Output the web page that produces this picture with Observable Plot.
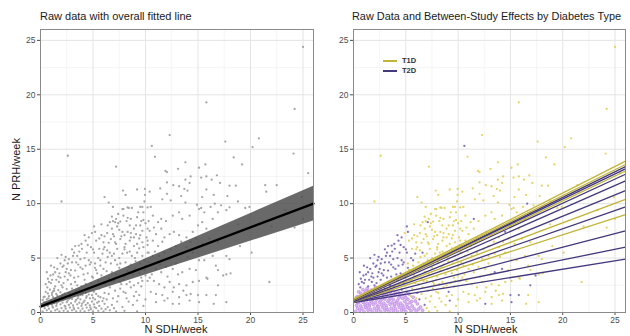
<!DOCTYPE html>
<html><head><meta charset="utf-8">
<script src="https://cdn.jsdelivr.net/npm/d3@7"></script>
<script src="https://cdn.jsdelivr.net/npm/@observablehq/plot@0.6"></script>
<style>
body{margin:0;background:#fff;}
#wrap{position:relative;width:630px;height:336px;overflow:hidden;font-family:"Liberation Sans",Arial,Helvetica,sans-serif;background:#fff;}
.panel{position:absolute;top:0;}
.title{position:absolute;top:11px;font-size:11px;line-height:11px;color:#1a1a1a;white-space:nowrap;}
.xt{position:absolute;top:324px;width:200px;font-size:11px;line-height:11px;text-align:center;color:#1a1a1a;white-space:nowrap;}
.yt{position:absolute;left:-84px;top:164px;width:200px;font-size:11px;line-height:11px;text-align:center;color:#1a1a1a;transform:rotate(-90deg);white-space:nowrap;}
.lgl{position:absolute;width:14px;height:1.6px;}
.lgt{position:absolute;font-size:7.5px;line-height:8px;font-weight:bold;color:#333;}
</style></head>
<body><div id="wrap">
<div id="left" class="panel" style="left:0"></div>
<div id="right" class="panel" style="left:315px"></div>
<div class="title" style="left:40px">Raw data with overall fitted line</div>
<div class="title" style="left:352px;font-size:10.9px">Raw Data and Between-Study Effects by Diabetes Type</div>
<div class="xt" style="left:76px">N SDH/week</div>
<div class="xt" style="left:386px">N SDH/week</div>
<div class="yt">N PRH/week</div>
<div class="lgl" style="left:383px;top:60px;background:#c2b43a"></div>
<div class="lgt" style="left:402px;top:56.5px">T1D</div>
<div class="lgl" style="left:383px;top:70px;background:#43397c"></div>
<div class="lgt" style="left:402px;top:66.5px">T2D</div>
</div>
<script>
const majorTicks = [0, 5, 10, 15, 20, 25];
const minorTicks = [2.5, 7.5, 12.5, 17.5, 22.5];
const axisDomain = [0, 26];

// T1D raw points [N SDH/week, N PRH/week]
const t1dPoints = [
[25.0,24.4],[15.8,19.3],[24.2,18.7],[12.3,16.3],[20.8,16.0],[17.6,15.7],[20.2,15.2],[2.6,14.4],[10.9,14.3],[18.4,14.25],[24.1,14.6],[7.2,13.4],[13.8,13.8],[15.7,13.6],[19.2,13.6],[15.1,13.3],[13.1,13.2],[11.9,13.0],[12.05,12.9],[25.5,12.8],[16.8,12.6],[14.3,12.5],[15.3,12.4],[15.8,12.5],[16.3,12.2],[13.8,12.2],[14.2,11.9],[17.1,11.9],[13.2,11.6],[18.0,11.65],[18.6,11.65],[21.4,11.7],[22.5,11.7],[13.7,11.35],[14.0,11.2],[15.8,11.3],[21.5,11.1],[13.4,10.7],[15.4,10.6],[16.5,10.8],[17.8,10.7],[18.8,10.2],[13.8,10.1],[14.9,9.9],[17.2,9.85],[18.0,9.66],[24.9,10.6],[15.3,9.6],[19.5,9.6],[19.9,9.7],[7.86,11.2],[8.1,10.8],[6.1,10.6],[6.5,10.1],[9.2,11.3],[9.95,11.35],[10.4,11.1],[9.95,10.8],[11.4,11.4],[12.05,11.95],[12.65,11.7],[12.05,10.9],[11.6,10.4],[12.4,10.3],[9.9,10.2],[2.0,10.2],[7.9,9.5],[8.4,9.6],[9.7,9.7],[10.5,9.7],
[10.3,8.4],[10.7,8.9],[11.2,8.3],[11.95,8.4],[12.6,8.9],[13.2,9.2],[13.5,8.6],[14.2,8.9],[15.1,9.5],[15.6,9.2],[16.2,9.7],[10.4,7.5],[11.0,7.2],[11.5,7.7],[11.8,6.9],[12.3,7.2],[12.7,7.4],[13.2,7.1],[13.9,6.9],[15.0,8.0],[15.4,8.3],[15.8,7.7],[16.4,8.6],[16.9,9.2],[17.7,9.4],[10.7,6.6],[11.2,6.1],[11.6,6.5],[12.4,5.8],[12.9,6.1],[13.4,6.5],[13.9,6.0],[14.3,6.5],[14.8,6.8],[15.4,6.3],[16.1,6.8],[10.3,5.5],[10.7,5.2],[11.3,5.2],[11.8,5.5],[12.3,4.9],[12.9,5.2],[13.5,5.4],[14.0,5.1],[14.5,5.5],[15.1,4.8],[15.6,4.8],[16.4,5.2],[17.7,5.2],[18.0,4.9],[20.1,5.5],[10.5,4.3],[11.0,4.0],[11.5,3.7],[11.95,4.2],[12.6,4.0],[13.1,3.5],[14.8,3.9],[15.8,3.2],[16.7,4.3],[16.9,3.9],[17.7,3.5],[10.4,3.2],[10.8,2.9],[11.3,2.6],[11.8,2.3],[12.3,2.8],[12.7,2.3],[13.2,2.6],[13.9,2.5],[14.5,2.8],[15.1,2.9],[15.9,3.1],[21.8,2.8],[10.5,1.9],[11.0,1.7],[11.6,1.6],[12.1,1.3],[12.6,1.9],[13.2,1.4],[13.9,1.6],[14.3,1.7],[16.7,1.6],[11.0,0.95],[11.8,1.1],[13.2,0.8],[14.2,1.1],[16.5,0.8],[17.7,0.95],
[18.1,3.6],[19.0,6.1],[18.8,8.1],[16.9,6.45],[25.0,8.6],[24.2,7.8],[22.0,7.9],[23.3,9.4],
[6.8,8.8],[7.4,9.05],[7.8,9.5],[8.3,9.65],[8.7,9.6],[9.5,9.7],[9.8,9.2],[10.2,9.65],[6.9,8.4],[7.6,8.35],[7.9,8.9],[8.2,8.4],[9.2,8.75],[9.8,8.5],[8.5,8.0],[8.9,7.7],[9.5,8.0],[10.2,7.7],[7.3,7.9],[6.8,7.7],[6.35,7.3],[7.8,7.4],[8.3,7.4],[8.9,6.9],[9.5,7.1],[10.1,6.9],[5.6,6.8],[6.0,6.45],[6.7,6.75],[7.1,6.45],[7.6,6.75],[8.1,6.3],[8.5,6.6],[9.2,6.3],[9.7,6.45],[10.2,6.2],[5.6,5.85],[6.35,5.7],[6.8,5.2],[7.3,5.85],[7.8,5.4],[8.25,5.5],[8.7,5.2],[9.2,5.5],[9.7,5.2],[10.2,5.5],[5.2,4.5],[6.2,4.6],[6.7,4.5],[7.1,4.8],[7.6,4.5],[8.1,4.6],[8.6,4.4],[9.05,4.7],[9.5,4.5],[10.0,4.3],
[5.0,3.2],[5.3,3.9],[5.5,2.9],[5.8,3.4],[6.0,4.0],[6.2,2.6],[6.5,3.1],[6.8,3.7],[7.0,2.9],[7.2,3.5],[7.5,4.1],[7.7,2.6],[8.0,3.3],[8.3,3.8],[8.5,2.8],[8.8,3.5],[9.0,4.0],[9.3,2.7],[9.6,3.2],[9.9,3.9],[10.2,2.9],[5.6,2.2],[6.6,2.3],[7.1,2.0],[7.6,2.2],[8.1,1.8],[8.6,2.3],[9.6,2.4],[7.3,1.0],[8.2,1.3],[9.8,0.6],[8.8,0.7],[7.8,0.5],
[5.3,6.6],[5.8,7.1],[6.1,6.0],[6.4,8.0],[6.9,7.2],[7.2,6.3],[7.4,8.2],[7.7,7.0],[8.0,6.0],[8.3,8.7],[8.6,7.3],[8.9,6.1],[9.1,8.0],[9.4,6.8],[9.7,7.5],[10.0,8.2],[4.9,7.3],
[7.2,0.1],[8.0,0.15],[9.2,0.1],[7.0,0.4],
[5.4,3.6],[5.9,2.7],[6.3,3.8],[6.7,2.9],[7.3,4.4],[7.9,3.0],[8.4,4.2],[8.9,2.5],[9.4,3.6],[10.0,3.4],[5.7,4.3],[6.4,5.1],[7.0,5.4],[7.5,5.0],[8.0,5.8],[8.5,5.6],[9.0,5.0],[9.4,5.9],[9.9,4.8],[6.0,5.8],[6.5,6.4],[7.0,7.0],[7.5,7.6],[8.0,7.1],[8.6,6.9],[9.1,7.2],[9.8,6.0],[6.1,7.0],[5.8,8.1],[6.6,8.3],[7.2,8.6],[8.6,8.6],[9.3,9.2],[9.6,8.4],[6.9,9.7],[5.5,1.5],[6.0,1.3],[6.5,1.7],[7.4,1.5],[7.9,1.9],[8.4,1.0],[8.9,1.5],[9.4,1.6],[10.0,1.2],[6.9,1.3],[7.6,2.8],[8.2,2.6],[9.7,2.9],[10.3,4.6],[10.6,3.5],[10.9,5.6],[11.4,4.4],[12.1,3.3],[12.9,4.5],[13.6,2.0],[10.2,6.6],[10.8,7.8]
];

// T2D raw points (scattered)
const t2dPoints = [
[10.6,15.3],[16.6,10.0],[11.5,8.6],[14.5,7.4],[12.6,0.8],[15.8,1.6],[15.1,0.95],[13.5,3.7],[14.2,4.0],[16.9,2.5],[17.4,3.4],[15.0,1.6],
[5.1,7.9],[5.2,7.4],[4.6,6.9],[4.3,6.6],[3.65,6.15],[3.95,5.85],[3.2,5.5],[3.5,5.2],[2.4,5.1],[2.7,4.9],[3.0,4.6],[3.8,4.9],[4.4,5.5],[4.8,6.0],[5.1,5.5],[5.9,5.4],[1.9,4.5],[2.2,4.3],[1.3,4.15],[1.4,3.7],[1.6,4.0],[0.95,3.4],[0.8,2.8],[0.65,2.3],[1.75,2.8],[1.9,3.2],[2.4,3.7],[2.5,4.0],[2.85,3.4],[3.3,3.85],[3.8,4.15],[4.3,4.3],[4.8,4.6],[5.7,4.8],
[2.0,2.5],[2.6,3.0],[3.0,2.2],[3.3,2.8],[3.6,3.3],[3.9,2.4],[4.2,3.0],[4.5,3.6],[4.8,2.7],[4.6,2.1],
[0.5,2.6],[0.7,3.1],[1.0,2.7],[1.2,3.5],[1.5,3.0],[1.8,3.6],[2.1,4.2],[2.3,3.3],[2.6,4.5],[2.9,3.9],[3.1,5.2],[3.4,4.6],[3.7,5.6],[4.0,4.0],[4.2,5.0],[4.5,6.2],[4.7,4.4],[5.0,5.8],[5.5,5.0],[6.6,5.5],[3.3,6.1],[2.0,5.3],[1.0,4.3],
[7.1,8.3],[6.3,1.2],[9.2,1.1],[6.8,0.7],[9.1,1.9],[5.1,1.9],[6.1,1.8],
[1.1,3.0],[1.7,3.3],[2.2,2.7],[2.7,3.6],[3.2,3.2],[3.6,4.4],[4.1,3.5],[4.6,4.8],[5.2,4.1],[1.4,2.4],[2.9,2.6],[3.5,2.5],[4.3,2.6],[4.9,3.3],[2.3,4.8],[3.0,5.8],[3.9,6.3],[4.2,7.1],[1.6,5.0],[0.6,3.7]
];

// T2D raw points, dense low cluster
const t2dLowPoints = [
[0.5,1.9],[0.3,1.4],[1.1,1.6],[1.3,2.0],[2.8,1.7],[3.4,2.0],[4.0,1.8],
[0.2,0.1],[0.6,0.2],[1.0,0.1],[1.4,0.2],[1.8,0.1],[2.2,0.15],[2.6,0.1],[3.0,0.2],[3.4,0.1],[3.8,0.15],[4.2,0.1],[4.6,0.2],[5.0,0.1],[5.5,0.15],[6.0,0.1],[6.6,0.2],
[0.4,0.4],[0.8,0.35],[1.2,0.45],[1.6,0.3],[2.0,0.4],[2.4,0.35],[2.8,0.45],[3.2,0.3],[3.6,0.4],[4.0,0.35],[4.4,0.45],[4.8,0.3],[5.3,0.4],[5.8,0.35],[6.4,0.5],
[0.3,0.65],[0.7,0.6],[1.1,0.7],[1.5,0.6],[1.9,0.75],[2.3,0.6],[2.7,0.7],[3.1,0.65],[3.5,0.75],[3.9,0.6],[4.3,0.7],[4.7,0.65],[5.1,0.75],[5.6,0.6],[6.1,0.8],
[0.5,0.9],[0.9,0.95],[1.3,0.85],[1.7,1.0],[2.1,0.9],[2.5,0.95],[2.9,0.85],[3.3,1.0],[3.7,0.9],[4.1,0.95],[4.5,0.85],[4.9,1.0],[5.4,0.9],[5.9,1.05],
[0.2,1.15],[0.6,1.2],[1.0,1.1],[1.4,1.25],[1.8,1.15],[2.2,1.2],[2.6,1.1],[3.0,1.25],[3.4,1.15],[3.8,1.2],[4.2,1.1],[4.7,1.3],[5.2,1.2],[5.7,1.4],
[0.4,1.45],[0.8,1.5],[1.2,1.4],[1.6,1.55],[2.0,1.45],[2.4,1.5],[2.8,1.4],[3.2,1.55],[3.6,1.45],[4.0,1.6],[4.4,1.5],[4.9,1.6],
[0.7,1.75],[1.1,1.8],[1.5,1.7],[1.9,1.85],[2.3,1.75],[2.7,1.8],[3.1,1.7],[3.5,1.85],[4.3,1.8],[5.3,1.7],
[0.9,2.1],[1.3,2.2],[1.7,2.05],[2.1,2.3],[2.5,2.15],[3.7,2.1],
[0.35,0.95],[0.75,1.3],[1.15,0.5],[1.55,0.8],[1.95,1.3],[2.35,0.55],[2.75,1.25],[3.15,0.45],[3.55,1.3],[3.95,0.8],[4.35,1.35],[4.75,0.45],[5.15,0.5],[5.55,1.0],[6.2,0.3],[4.6,1.65],[5.0,1.35],[3.8,1.6],[2.1,1.65],[1.2,1.95]
];

// Overall fitted line and confidence band
const fitX = [0, 26];
const fitY = [0.55, 10.0];
const bandLo = [0.35, 8.4];
const bandHi = [0.75, 11.6];

// Between-study lines (y at x = 0 and at x = 26)
const lineGroup = ["T1D","T1D","T2D","T2D","T1D","T2D","T2D","T2D","T1D","T2D","T1D","T2D","T2D","T2D"];
const lineStart = [1.25,1.2,1.15,1.2,1.1,1.15,1.1,1.0,1.05,1.0,0.95,1.0,0.95,0.9];
const lineEnd = [13.9,13.6,13.4,13.2,13.0,12.7,12.1,11.2,10.4,9.7,9.0,7.5,6.0,4.9];

const groups = ["T1D","T2D"];
const groupColors = ["#c2b43a","#43397c"];

const allPoints = [...t1dPoints, ...t2dPoints, ...t2dLowPoints];
const band = fitX.map((x, i) => ({x, lo: bandLo[i], hi: bandHi[i], fit: fitY[i]}));
const lines = lineGroup.map((g, i) => ({g, s: lineStart[i], e: lineEnd[i]})).reverse();

function panel(marks, marginLeft, marginRight) {
  return Plot.plot({
    width: 315, height: 336,
    marginTop: 29, marginBottom: 24, marginLeft, marginRight,
    x: {domain: axisDomain, ticks: majorTicks, tickSize: 3, tickPadding: 1, label: null},
    y: {domain: axisDomain, ticks: majorTicks, tickSize: 3, tickPadding: 2, label: null},
    color: {domain: groups, range: groupColors},
    style: {fontFamily: '"Liberation Sans", Arial, sans-serif', fontSize: "8.5px", color: "#4d4d4d", background: "transparent", overflow: "visible"},
    marks: [
      Plot.ruleX(minorTicks, {stroke: "#efefef", strokeWidth: 0.6}),
      Plot.ruleY(minorTicks, {stroke: "#efefef", strokeWidth: 0.6}),
      Plot.ruleX(majorTicks, {stroke: "#e4e4e4", strokeWidth: 1}),
      Plot.ruleY(majorTicks, {stroke: "#e4e4e4", strokeWidth: 1}),
      ...marks,
      Plot.frame({stroke: "#8a8a8a", strokeWidth: 1})
    ]
  });
}

const left = panel([
  Plot.dot(allPoints, {x: d => d[0], y: d => d[1], r: 1.15, fill: "#a6a6a6", stroke: "none"}),
  Plot.areaY(band, {x: "x", y1: "lo", y2: "hi", fill: "#4f4f4f", fillOpacity: 0.85}),
  Plot.line(band, {x: "x", y: "fit", stroke: "#000", strokeWidth: 2.3})
], 40, 2);

const right = panel([
  Plot.dot(t2dLowPoints, {x: d => d[0], y: d => d[1], r: 1.5, fill: "#dcb8f4", stroke: "#b883e2", strokeWidth: 0.6}),
  Plot.dot(t1dPoints, {x: d => d[0], y: d => d[1], r: 1.15, fill: "#e2cf57", fillOpacity: 0.9, stroke: "none"}),
  Plot.dot(t2dPoints, {x: d => d[0], y: d => d[1], r: 1.15, fill: "#7b64b4", fillOpacity: 0.9, stroke: "none"}),
  Plot.link(lines, {x1: () => fitX[0], x2: () => fitX[1], y1: "s", y2: "e", stroke: "g", strokeWidth: 1.3})
], 38, 5);

document.getElementById("left").appendChild(left);
document.getElementById("right").appendChild(right);
</script>
</body></html>
